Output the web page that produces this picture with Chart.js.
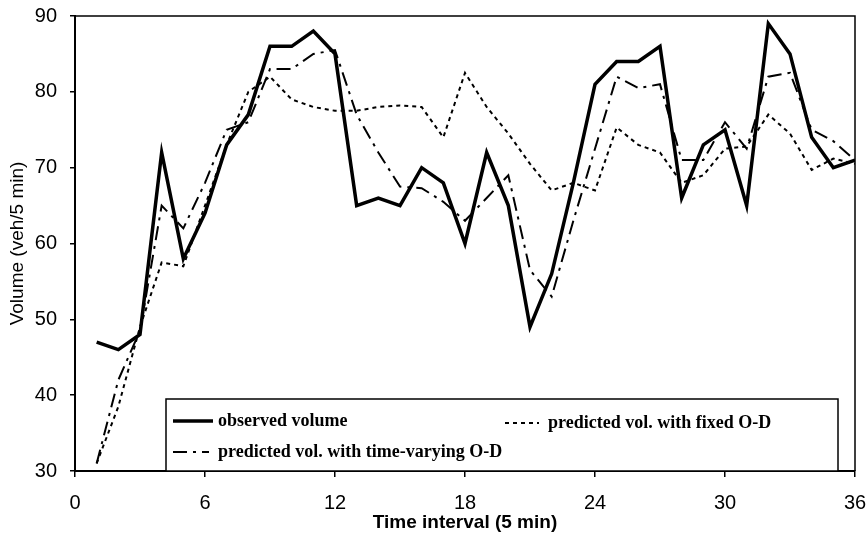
<!DOCTYPE html>
<html>
<head>
<meta charset="utf-8">
<script src="https://cdn.jsdelivr.net/npm/chart.js@4/dist/chart.umd.min.js"></script>
<style>
  html, body { margin: 0; padding: 0; background: #fff; }
  #wrap { width: 867px; height: 539px; position: relative; }
</style>
</head>
<body>
<div id="wrap"><canvas id="c" width="867" height="539"></canvas></div>
<script>
// Time intervals (5 min each)
const intervals = [1,2,3,4,5,6,7,8,9,10,11,12,13,14,15,16,17,18,19,20,21,22,23,24,25,26,27,28,29,30,31,32,33,34,35,36];

// Observed traffic volume (veh/5 min)
const observedVolume = [47,46,48,72,58,64,73,77,86,86,88,85,65,66,65,70,68,60,72,65,49,56,68,81,84,84,86,66,73,75,65,89,85,74,70,71];

// Predicted volume using a fixed O-D matrix
const fixedOD = [31,38.5,49,57.5,57,65,73,80,82,79,78,77.5,77.5,78,78.2,78,74,82.5,78,74.5,70.5,67,68,67,75.3,73,72,68,69,72.5,72.8,77,74.5,69.7,71.2,70.5];

// Predicted volume using a time-varying O-D matrix
const timeVaryingOD = [31,42,48.5,65,62,68,75,76,83,83,85,85.5,77,72,67.5,67.3,65.5,63,66,69,56.5,53,63,72.5,82,80.5,81,71,71,76,72.5,82,82.5,75,73.5,71];

const xTicks = [0,6,12,18,24,30,36];
const yTicks = [30,40,50,60,70,80,90];

const toPoints = vals => intervals.map((t, i) => ({ x: t, y: vals[i] }));

const sans = '"Liberation Sans", Arial, sans-serif';

// Frame around the plotting area (top and right edges)
const frame = {
  id: 'frame',
  afterDatasetsDraw(chart) {
    const { ctx, chartArea: a } = chart;
    ctx.save();
    ctx.strokeStyle = '#000';
    ctx.lineWidth = 1.5;
    ctx.beginPath();
    ctx.moveTo(a.left, a.top);
    ctx.lineTo(a.right, a.top);
    ctx.lineTo(a.right, a.bottom);
    ctx.stroke();
    ctx.restore();
  }
};

// Boxed legend in the lower part of the plot, two columns
const boxLegend = {
  id: 'boxLegend',
  afterDraw(chart) {
    const { ctx, chartArea: a } = chart;
    const ds = chart.data.datasets;
    const box = { left: 166, top: 399, right: 838, bottom: a.bottom };
    ctx.save();
    ctx.fillStyle = '#fff';
    ctx.fillRect(box.left, box.top, box.right - box.left, box.bottom - box.top);
    ctx.strokeStyle = '#000';
    ctx.lineWidth = 1.5;
    ctx.strokeRect(box.left, box.top, box.right - box.left, box.bottom - box.top);

    const items = [
      { d: ds[0], x: 173, len: 40, y: 421, gap: 5 },
      { d: ds[1], x: 505, len: 34, y: 423, gap: 9 },
      { d: ds[2], x: 173, len: 36, y: 452, gap: 9 }
    ];
    ctx.font = 'bold 18px "Liberation Serif", "Times New Roman", serif';
    ctx.textBaseline = 'middle';
    ctx.fillStyle = '#000';
    items.forEach(it => {
      ctx.save();
      ctx.strokeStyle = it.d.borderColor;
      ctx.lineWidth = it.d.borderWidth;
      ctx.setLineDash(it.d.borderDash || []);
      ctx.beginPath();
      ctx.moveTo(it.x, it.y);
      ctx.lineTo(it.x + it.len, it.y);
      ctx.stroke();
      ctx.restore();
      ctx.fillText(it.d.label, it.x + it.len + it.gap, it.y);
    });
    ctx.restore();
  }
};

new Chart(document.getElementById('c'), {
  type: 'line',
  data: {
    datasets: [
      {
        label: 'observed volume',
        data: toPoints(observedVolume),
        borderColor: '#000',
        borderWidth: 3.5,
        pointRadius: 0,
        tension: 0,
        order: 0
      },
      {
        label: 'predicted vol. with fixed O-D',
        data: toPoints(fixedOD),
        borderColor: '#000',
        borderWidth: 2,
        borderDash: [4, 4],
        pointRadius: 0,
        tension: 0,
        order: 2
      },
      {
        label: 'predicted vol. with time-varying O-D',
        data: toPoints(timeVaryingOD),
        borderColor: '#000',
        borderWidth: 2,
        borderDash: [14, 6, 3, 6],
        pointRadius: 0,
        tension: 0,
        order: 1
      }
    ]
  },
  options: {
    responsive: false,
    animation: false,
    devicePixelRatio: 1,
    layout: { padding: { top: 16, right: 12, left: 0, bottom: 0 } },
    plugins: {
      legend: { display: false },
      tooltip: { enabled: false }
    },
    scales: {
      x: {
        type: 'linear',
        min: 0,
        max: 36,
        afterBuildTicks: s => { s.ticks = xTicks.map(v => ({ value: v })); },
        afterFit: s => { s.height = 68; s.paddingLeft = 0; s.paddingRight = 0; },
        border: { display: true, color: '#000', width: 2 },
        grid: { display: true, drawOnChartArea: false, color: '#000', lineWidth: 1.5, tickLength: 6 },
        ticks: {
          color: '#000',
          font: { family: sans, size: 20 },
          padding: 14,
          maxRotation: 0
        },
        title: {
          display: true,
          text: 'Time interval (5 min)',
          color: '#000',
          font: { family: sans, size: 19, weight: 'bold' },
          padding: { top: 0, bottom: 5 }
        }
      },
      y: {
        type: 'linear',
        min: 30,
        max: 90,
        afterBuildTicks: s => { s.ticks = yTicks.map(v => ({ value: v })); },
        afterFit: s => { s.width = 75; s.paddingTop = 0; s.paddingBottom = 0; },
        border: { display: true, color: '#000', width: 2 },
        grid: { display: true, drawOnChartArea: false, color: '#000', lineWidth: 1.5, tickLength: 5 },
        ticks: {
          color: '#000',
          font: { family: sans, size: 20 },
          padding: 13
        },
        title: {
          display: true,
          text: 'Volume (veh/5 min)',
          color: '#000',
          font: { family: sans, size: 19 },
          padding: { top: 6, bottom: 0 }
        }
      }
    }
  },
  plugins: [frame, boxLegend]
});
</script>
</body>
</html>
